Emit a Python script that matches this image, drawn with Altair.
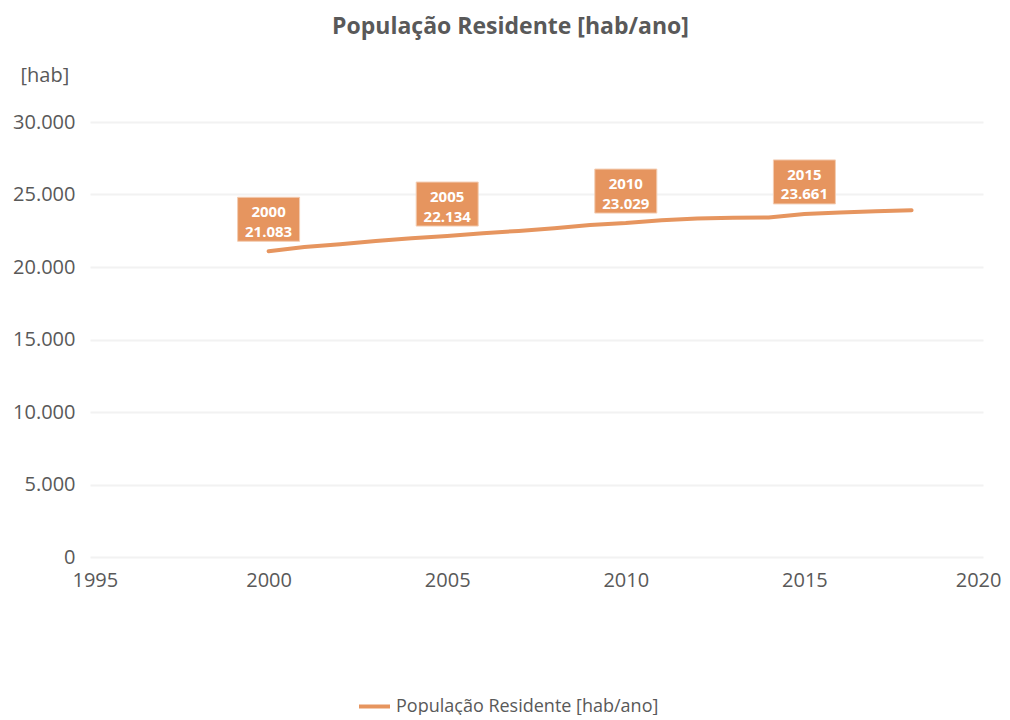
import altair as alt
import pandas as pd

years = list(range(2000, 2019))
population = [21083, 21380, 21570, 21790, 21990, 22134, 22330, 22490, 22680, 22900,
              23029, 23220, 23340, 23390, 23420, 23661, 23760, 23840, 23920]
label_years = [2000, 2005, 2010, 2015]
series_name = "População Residente [hab/ano]"
chart_title = "População Residente [hab/ano]"
y_unit = "[hab]"
x_ticks = [1995, 2000, 2005, 2010, 2015, 2020]
y_ticks = [0, 5000, 10000, 15000, 20000, 25000, 30000]

ORANGE = "#E6955F"
GREY = "#595959"
FONT = "Open Sans"

df = pd.DataFrame({"ano": years, "pop": population, "serie": series_name})
lab = df[df["ano"].isin(label_years)].copy()
lab["txt"] = [f"{a}\n{p:,}".replace(",", ".") for a, p in zip(lab["ano"], lab["pop"])]

x = alt.X(
    "ano:Q",
    scale=alt.Scale(domain=[1995, 2020], nice=False, zero=False),
    axis=alt.Axis(values=x_ticks, format="d", title=None, grid=False, domain=False,
                  ticks=False, labelPadding=13, labelFontSize=20, labelColor=GREY,
                  labelFont=FONT, labelFlush=True, labelFlushOffset=18,
                  labelOverlap=False),
)
y = alt.Y(
    "pop:Q",
    scale=alt.Scale(domain=[0, 30000], nice=False),
    axis=alt.Axis(values=y_ticks, title=y_unit, titleAngle=0, titleAlign="left",
                  titleBaseline="middle", titleX=-70, titleY=-47, titleFontSize=20,
                  titleFont=FONT, titleFontWeight="normal", titleColor=GREY,
                  grid=True, gridColor="#F2F2F2", gridWidth=2, domain=False, ticks=False,
                  labelPadding=15, labelFontSize=20, labelColor=GREY, labelFont=FONT,
                  labelExpr="replace(format(datum.value, ','), ',', '.')"),
)

line = alt.Chart(df).mark_line(strokeWidth=4, strokeCap="round").encode(
    x=x, y=y,
    color=alt.Color("serie:N", scale=alt.Scale(range=[ORANGE]),
                    legend=alt.Legend(title=None, orient="none", legendX=267, legendY=567,
                                      symbolType="stroke", symbolStrokeWidth=4,
                                      symbolSize=961, labelFontSize=18, labelFont=FONT,
                                      labelColor=GREY, labelOffset=4, labelLimit=0)),
)

boxes = alt.Chart(lab).mark_point(
    shape="M-1,-0.71L1,-0.71L1,0.71L-1,0.71Z", size=3844, filled=True, opacity=1,
    color=ORANGE, stroke="#F3CDB3", strokeWidth=1, yOffset=-32,
).encode(x=x, y=y)

texts = alt.Chart(lab).mark_text(
    lineBreak="\n", fontWeight="bold", fontSize=15, font=FONT, color="white",
    yOffset=-39, baseline="middle", lineHeight=19.5,
).encode(x=x, y=y, text="txt:N")

chart = alt.layer(line, boxes, texts).properties(
    width=893, height=435,
    title=alt.TitleParams(text=chart_title, fontSize=23, font=FONT, fontWeight="bold",
                          color=GREY, anchor="middle", dx=-26, offset=26),
    autosize=alt.AutoSizeParams(type="none"),
    padding={"left": 82, "top": 114, "right": 19, "bottom": 158},
    background="white",
).configure_view(stroke=None)

chart.save("out.html", embed_options={"renderer": "svg", "actions": False})
